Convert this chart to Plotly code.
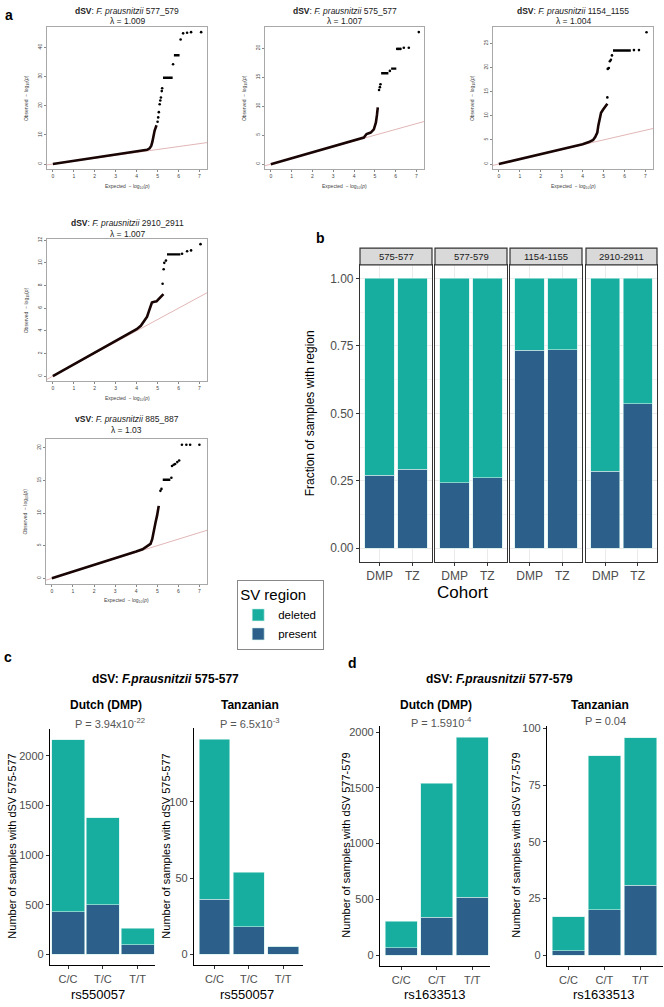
import plotly.graph_objects as go

W, H = 664, 1007
FONT = "Liberation Sans, Arial, sans-serif"
TEAL = "#17ae9f"
BLUE = "#2c5f8a"

# ---------------- panel a : QQ plots ----------------
qq_titles = ["<b>dSV</b>: <i>F. prausnitzii</i> 577_579",
             "<b>dSV</b>: <i>F. prausnitzii</i> 575_577",
             "<b>dSV</b>: <i>F. prausnitzii</i> 1154_1155",
             "<b>dSV</b>: <i>F. prausnitzii</i> 2910_2911",
             "<b>vSV</b>: <i>F. prausnitzii</i> 885_887"]
qq_lambda = ["λ = 1.009", "λ = 1.007", "λ = 1.004", "λ = 1.007", "λ = 1.03"]

qq1_line_x = [0, 0.5, 1, 1.5, 2, 2.5, 3, 3.5, 4, 4.3, 4.5, 4.62, 4.7, 4.75, 4.8, 4.86, 4.95]
qq1_line_y = [0, 0.52, 1.03, 1.55, 2.07, 2.6, 3.1, 3.65, 4.2, 4.55, 4.9, 5.4, 6.3, 7.6, 9.5, 11.5, 13.3]
qq1_pts_x = [5.0, 5.03, 5.06, 5.1, 5.13, 5.16, 5.2, 5.22, 5.74, 6.1, 6.22, 6.41, 6.6, 7.08]
qq1_pts_y = [14.5, 16.0, 17.8, 20.5, 21.8, 22.8, 25.0, 26.0, 34.2, 42.7, 44.8, 45.0, 45.2, 45.2]
qq1_flat_x0 = [5.26, 5.78]
qq1_flat_x1 = [5.72, 6.05]
qq1_flat_y = [29.6, 37.3]

qq2_line_x = [0, 1, 2, 3, 4, 4.3, 4.47, 4.6, 4.8, 4.95, 5.05, 5.1, 5.14]
qq2_line_y = [0, 1.02, 2.05, 3.08, 4.15, 4.45, 4.6, 5.2, 5.45, 6.0, 7.2, 8.5, 9.8]
qq2_pts_x = [5.2, 5.24, 5.27, 5.72, 6.07, 6.15, 6.23, 6.39, 6.63, 7.11]
qq2_pts_y = [12.8, 13.3, 13.8, 16.1, 19.9, 19.9, 19.9, 20.1, 20.1, 22.8]
qq2_flat_x0 = [5.3, 5.78]
qq2_flat_x1 = [5.65, 6.03]
qq2_flat_y = [15.7, 16.5]

qq3_line_x = [0, 1, 2, 3, 4, 4.3, 4.5, 4.6, 4.7, 4.75, 4.8, 4.88, 4.98, 5.1, 5.18]
qq3_line_y = [0, 1.0, 2.0, 3.05, 4.1, 4.55, 5.0, 5.6, 6.5, 8.0, 9.3, 10.6, 11.3, 11.9, 12.5]
qq3_pts_x = [5.18, 5.2, 5.25, 5.3, 5.35, 5.4, 6.45, 6.69, 7.05]
qq3_pts_y = [13.8, 19.7, 19.9, 21.3, 21.6, 22.5, 23.6, 23.6, 27.3]
qq3_flat_x0 = [5.45]
qq3_flat_x1 = [6.3]
qq3_flat_y = [23.5]

qq4_line_x = [0, 1, 2, 3, 4, 4.2, 4.35, 4.5, 4.6, 4.68, 4.73, 4.8, 4.95, 5.05, 5.16, 5.28]
qq4_line_y = [0, 1.02, 2.05, 3.08, 4.15, 4.45, 4.8, 5.25, 5.8, 6.3, 6.5, 6.55, 6.6, 6.8, 7.0, 7.25]
qq4_pts_x = [5.24, 5.29, 5.32, 5.4, 6.17, 6.41, 6.6, 7.05]
qq4_pts_y = [8.16, 9.43, 10.0, 10.2, 10.8, 11.03, 11.1, 11.65]
qq4_flat_x0 = [5.45]
qq4_flat_x1 = [6.09]
qq4_flat_y = [10.75]

qq5_line_x = [0, 1, 2, 3, 4, 4.3, 4.44, 4.6, 4.68, 4.76, 4.84, 4.92, 4.99, 5.07]
qq5_line_y = [0, 1.0, 2.0, 3.05, 4.1, 4.45, 4.75, 5.0, 5.27, 6.0, 7.6, 8.6, 9.6, 11.1]
qq5_pts_x = [5.15, 5.2, 5.67, 5.7, 5.78, 5.85, 5.95, 6.04, 6.17, 6.38, 6.56, 7.0]
qq5_pts_y = [13.4, 13.7, 15.4, 17.2, 17.4, 17.5, 17.8, 18.05, 20.45, 20.45, 20.45, 20.45]
qq5_flat_x0 = [5.26]
qq5_flat_x1 = [5.62]
qq5_flat_y = [15.1]

qq_yticks = [[0, 10, 20, 30, 40], [0, 5, 10, 15, 20], [0, 5, 10, 15, 20, 25],
             [0, 2, 4, 6, 8, 10, 12], [0, 5, 10, 15, 20]]
qq_yrange = [[-1.8, 47.0], [-0.9, 23.7], [-1.1, 28.4], [-0.47, 12.1], [-0.82, 21.3]]
qq_xticks = [0, 1, 2, 3, 4, 5, 6, 7]
diag = [-1, 9]

# ---------------- panel b : fraction of samples ----------------
regions = ["575-577", "577-579", "1154-1155", "2910-2911"]
cohorts = ["DMP", "TZ"]
b_present = [[0.27, 0.292], [0.242, 0.262], [0.734, 0.736], [0.285, 0.535]]
b_deleted = [[0.73, 0.708], [0.758, 0.738], [0.266, 0.264], [0.715, 0.465]]

# ---------------- panels c / d : counts per genotype ----------------
c_geno = ["C/C", "T/C", "T/T"]
c_dmp_present = [432, 498, 96]
c_dmp_deleted = [1727, 877, 170]
c_tz_present = [36, 18, 5]
c_tz_deleted = [105, 36, 0]

d_geno = ["C/C", "C/T", "T/T"]
d_dmp_present = [65, 342, 521]
d_dmp_deleted = [241, 1200, 1434]
d_tz_present = [2, 20, 31]
d_tz_deleted = [15, 68, 65]


def xd(a, b):
    return [a / W, b / W]


def yd(top, bot):
    return [1 - bot / H, 1 - top / H]


def px(x):
    return x / W


def py(y):
    return 1 - y / H


fig = go.Figure()
layout = {}
ann = []
shapes = []


def text(x, y, s, size, color="#000", angle=0, xanchor="center", bold=False):
    if bold:
        s = "<b>" + s + "</b>"
    ann.append(dict(x=px(x), y=py(y), xref="paper", yref="paper", text=s, showarrow=False,
                    textangle=angle, xanchor=xanchor, yanchor="middle",
                    font=dict(family=FONT, size=size, color=color)))


# ---- QQ plots
qq_box = [(47, 207, 23, 166), (265, 424, 23, 166), (493, 653, 23, 166),
          (47, 207, 236, 379), (46, 207, 437, 582)]
qq_title_y = [7, 7, 7, 220, 417]
qq_data = [
    (qq1_line_x, qq1_line_y, qq1_pts_x, qq1_pts_y, qq1_flat_x0, qq1_flat_x1, qq1_flat_y),
    (qq2_line_x, qq2_line_y, qq2_pts_x, qq2_pts_y, qq2_flat_x0, qq2_flat_x1, qq2_flat_y),
    (qq3_line_x, qq3_line_y, qq3_pts_x, qq3_pts_y, qq3_flat_x0, qq3_flat_x1, qq3_flat_y),
    (qq4_line_x, qq4_line_y, qq4_pts_x, qq4_pts_y, qq4_flat_x0, qq4_flat_x1, qq4_flat_y),
    (qq5_line_x, qq5_line_y, qq5_pts_x, qq5_pts_y, qq5_flat_x0, qq5_flat_x1, qq5_flat_y),
]

for i, (box, d) in enumerate(zip(qq_box, qq_data)):
    n = i + 1
    xa, ya = ("x" if n == 1 else f"x{n}"), ("y" if n == 1 else f"y{n}")
    lx, ly, tx, ty, f0, f1, fy = d
    fig.add_trace(go.Scatter(x=diag, y=diag, mode="lines", line=dict(color="#d9a3a3", width=0.8),
                             xaxis=xa, yaxis=ya, showlegend=False, hoverinfo="skip"))
    fig.add_trace(go.Scatter(x=lx, y=ly, mode="lines", line=dict(color="#1a0505", width=2.6),
                             xaxis=xa, yaxis=ya, showlegend=False))
    fx, fyy = [], []
    for a, b, c in zip(f0, f1, fy):
        fx += [a, b, None]
        fyy += [c, c, None]
    fig.add_trace(go.Scatter(x=fx, y=fyy, mode="lines", line=dict(color="#000", width=2.4),
                             xaxis=xa, yaxis=ya, showlegend=False))
    fig.add_trace(go.Scatter(x=tx, y=ty, mode="markers", marker=dict(color="#000", size=2.6),
                             xaxis=xa, yaxis=ya, showlegend=False))
    ax = dict(showline=True, mirror=True, linecolor="#a8a8a8", linewidth=0.8, showgrid=False,
              zeroline=False, ticks="outside", ticklen=2, tickwidth=0.6, tickcolor="#888",
              tickfont=dict(family=FONT, size=5, color="#444"))
    layout["xaxis" + ("" if n == 1 else str(n))] = dict(ax, domain=xd(box[0], box[1]), range=[-0.28, 7.36],
                                                        tickvals=qq_xticks, anchor=ya)
    layout["yaxis" + ("" if n == 1 else str(n))] = dict(ax, domain=yd(box[2], box[3]), range=qq_yrange[i],
                                                        tickvals=qq_yticks[i], tickangle=-90, anchor=xa)
    cx = (box[0] + box[1]) / 2
    text(cx, qq_title_y[i], qq_titles[i], 8.5, "#222")
    text(cx, qq_title_y[i] + 10.5, qq_lambda[i], 8.5, "#222")
    text(cx, box[3] + 17, "Expected  − log<sub>10</sub>(<i>p</i>)", 5, "#444")
    text(box[0] - 21, (box[2] + box[3]) / 2, "Observed  − log<sub>10</sub>(<i>p</i>)", 5, "#444", angle=-90)

# ---- panel b facets
b_box_x = [(360, 432), (435, 507), (510, 582), (586, 657)]
b_top, b_bot = 262, 560
for j, (x0, x1) in enumerate(b_box_x):
    n = 6 + j
    xa, ya = f"x{n}", f"y{n}"
    fig.add_trace(go.Bar(x=cohorts, y=b_present[j], width=0.9, marker=dict(color=BLUE, line=dict(color="#cdeee9", width=0.6)),
                         name="present", legendgroup="present", showlegend=(j == 0), xaxis=xa, yaxis=ya))
    fig.add_trace(go.Bar(x=cohorts, y=b_deleted[j], width=0.9, marker=dict(color=TEAL, line=dict(color="#cdeee9", width=0.6)),
                         name="deleted", legendgroup="deleted", showlegend=(j == 0), xaxis=xa, yaxis=ya))
    layout[f"xaxis{n}"] = dict(domain=xd(x0, x1), anchor=ya, type="category", range=[-0.6, 1.6],
                               showgrid=True, gridcolor="#ebebeb", gridwidth=0.8,
                               showline=True, mirror=True, linecolor="#333", linewidth=1.2,
                               ticks="outside", ticklen=3, tickcolor="#333",
                               tickfont=dict(family=FONT, size=12, color="#4d4d4d"))
    layout[f"yaxis{n}"] = dict(domain=yd(b_top, b_bot), anchor=xa, range=[-0.05, 1.05],
                               tickvals=[0, 0.25, 0.5, 0.75, 1.0],
                               ticktext=["0.00", "0.25", "0.50", "0.75", "1.00"],
                               showticklabels=(j == 0), ticks="outside" if j == 0 else "",
                               ticklen=3, tickcolor="#333",
                               showgrid=True, gridcolor="#ebebeb", gridwidth=0.8, zeroline=False,
                               minor=dict(tickvals=[0.125, 0.375, 0.625, 0.875], showgrid=True,
                                          gridcolor="#f4f4f4", gridwidth=0.5),
                               showline=True, mirror=True, linecolor="#333", linewidth=1.2,
                               tickfont=dict(family=FONT, size=12, color="#4d4d4d"))
    shapes.append(dict(type="rect", xref="paper", yref="paper", x0=px(x0), x1=px(x1),
                       y0=py(b_top), y1=py(245), fillcolor="#d9d9d9", line=dict(color="#333", width=1.2)))
    text((x0 + x1) / 2, 253.5, regions[j], 9.5, "#1a1a1a")

text(310, 411, "Fraction of samples with region", 12, "#000", angle=-90)
text(462, 591, "Cohort", 17, "#000")

# ---- panels c / d
cd_sets = [
    ((50, 155, 728, 965), c_geno, c_dmp_present, c_dmp_deleted, [-0.52, 2.5], 0.95, [-108, 2268], [0, 500, 1000, 1500, 2000]),
    ((194, 303, 727, 965), c_geno, c_tz_present, c_tz_deleted, [-0.6, 2.58], 0.9, [-7.1, 148.4], [0, 50, 100]),
    ((380, 490, 725, 966), d_geno, d_dmp_present, d_dmp_deleted, [-0.6, 2.5], 0.9, [-98, 2053], [0, 500, 1000, 1500, 2000]),
    ((547, 663, 725, 966), d_geno, d_tz_present, d_tz_deleted, [-0.6, 2.63], 0.9, [-4.8, 101.1], [0, 25, 50, 75, 100]),
]
for k, (box, geno, pres, dele, xr, bw, yr, ytv) in enumerate(cd_sets):
    n = 10 + k
    xa, ya = f"x{n}", f"y{n}"
    fig.add_trace(go.Bar(x=geno, y=pres, width=bw, marker=dict(color=BLUE, line=dict(color="#cdeee9", width=0.6)),
                         showlegend=False, xaxis=xa, yaxis=ya))
    fig.add_trace(go.Bar(x=geno, y=dele, width=bw, marker=dict(color=TEAL, line=dict(color="#cdeee9", width=0.6)),
                         showlegend=False, xaxis=xa, yaxis=ya))
    ax = dict(showline=True, linecolor="#000", linewidth=1.3, showgrid=False, zeroline=False,
              ticks="outside", ticklen=3, tickcolor="#333",
              tickfont=dict(family=FONT, size=11, color="#4d4d4d"))
    layout[f"xaxis{n}"] = dict(ax, domain=xd(box[0], box[1]), anchor=ya, type="category", range=xr)
    layout[f"yaxis{n}"] = dict(ax, domain=yd(box[2], box[3]), anchor=xa, range=yr, tickvals=ytv)

text(165, 678, "dSV: <i>F.prausnitzii</i> 575-577", 12, bold=True)
text(499, 678, "dSV: <i>F.prausnitzii</i> 577-579", 12, bold=True)
text(106, 704, "Dutch (DMP)", 12, bold=True)
text(250, 704, "Tanzanian", 12, bold=True)
text(436, 704, "Dutch (DMP)", 12, bold=True)
text(600, 704, "Tanzanian", 12, bold=True)
text(110, 722, "P = 3.94x10<sup>-22</sup>", 11, "#555")
text(250, 722, "P = 6.5x10<sup>-3</sup>", 11, "#555")
text(442, 721, "P = 1.5910<sup>-4</sup>", 11, "#555")
text(605, 720, "P = 0.04", 11, "#555")
text(12, 846, "Number of samples with dSV 575-577", 11, angle=-90)
text(166, 846, "Number of samples with dSV 575-577", 11, angle=-90)
text(346, 845, "Number of samples with dSV 577-579", 11, angle=-90)
text(516, 845, "Number of samples with dSV 577-579", 11, angle=-90)
text(98, 994, "rs550057", 13)
text(247, 994, "rs550057", 13)
text(434, 994, "rs1633513", 13)
text(603, 994, "rs1633513", 13)

# panel letters
text(9, 11, "a", 14, bold=True)
text(320, 235, "b", 14, bold=True)
text(8, 656, "c", 14, bold=True)
text(352, 662, "d", 14, bold=True)

fig.update_layout(**layout)
fig.update_layout(
    width=W, height=H, margin=dict(l=0, r=0, t=0, b=0),
    paper_bgcolor="white", plot_bgcolor="white",
    barmode="stack",
    annotations=ann, shapes=shapes,
    font=dict(family=FONT),
    legend=dict(x=px(237), y=py(578), xanchor="left", yanchor="top", traceorder="reversed",
                bordercolor="#888", borderwidth=1.2, bgcolor="white",
                title=dict(text="SV region", font=dict(family=FONT, size=15, color="#000")),
                font=dict(family=FONT, size=11.5, color="#000"), itemwidth=30),
)

fig.write_html("out.html", config={"displayModeBar": False},
               post_script="document.body.style.margin='0';")
